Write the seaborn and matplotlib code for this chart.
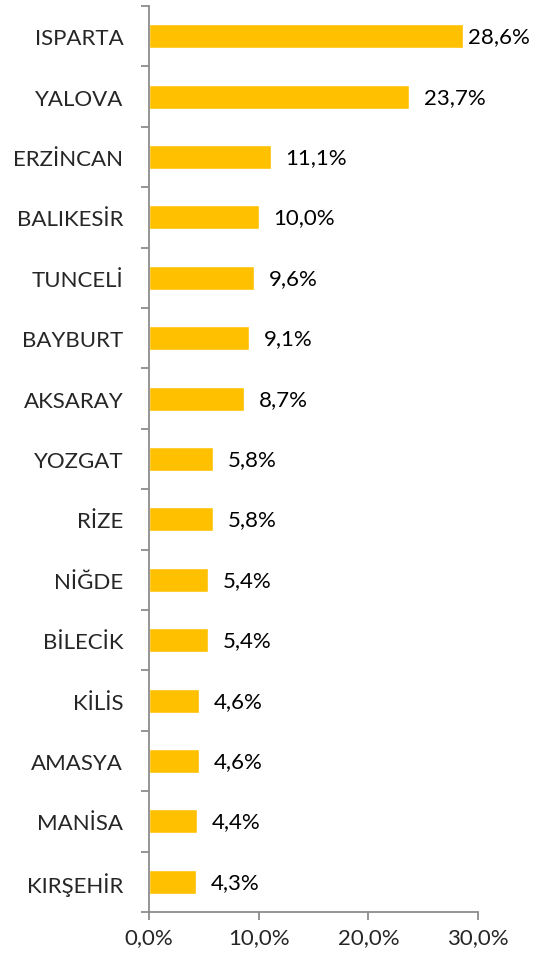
import numpy as np
import pandas as pd
import matplotlib
matplotlib.use("Agg")
import matplotlib.pyplot as plt
import seaborn as sns

provinces = ["ISPARTA", "YALOVA", "ERZİNCAN", "BALIKESİR", "TUNCELİ", "BAYBURT",
             "AKSARAY", "YOZGAT", "RİZE", "NİĞDE", "BİLECİK", "KİLİS",
             "AMASYA", "MANİSA", "KIRŞEHİR"]
shares = [28.6, 23.7, 11.1, 10.0, 9.6, 9.1, 8.7, 5.8, 5.8, 5.4, 5.4, 4.6, 4.6, 4.4, 4.3]
xticks = [0, 10, 20, 30]

df = pd.DataFrame({"il": provinces, "pay": shares})

sns.set_style("white")
plt.rcParams["font.family"] = ["Lato", "DejaVu Sans"]

fig = plt.figure(figsize=(5.39, 9.54), dpi=100)
ax = fig.add_axes([149 / 539, 1 - 913 / 954, (478 - 149) / 539, (913 - 7) / 954])

sns.barplot(data=df, x="pay", y="il", color="#FFC000", saturation=1,
            width=0.4, ax=ax, orient="h")

# value labels (the top one gets pushed left so it stays inside the figure)
for i, v in enumerate(shares):
    ax.text(min(v + 1.35, 29.1), i, f"{v:.1f}%".replace(".", ","), va="center",
            ha="left", fontsize=16, color="black")

ax.set_xlim(0, 30)
ax.set_ylim(len(provinces) - 0.5, -0.5)
ax.set_xticks(xticks)
ax.set_xticklabels([f"{t:.1f}%".replace(".", ",") for t in xticks], fontsize=16)

# category labels at centres, tick marks at boundaries
ax.set_yticks(np.arange(-0.5, len(provinces)), labels=[])
ax.set_yticks(np.arange(len(provinces)), labels=provinces, minor=True)
ax.tick_params(axis="y", which="minor", left=True, length=0, labelsize=16, pad=18.5)
ax.tick_params(axis="y", which="major", left=True, length=6, width=1.3,
               color="#8c8c8c", direction="out")
ax.tick_params(axis="x", bottom=True, length=6, width=1.3, color="#8c8c8c",
               direction="out", pad=5)

ax.set_xlabel("")
ax.set_ylabel("")
for s in ["top", "right"]:
    ax.spines[s].set_visible(False)
for s in ["left", "bottom"]:
    ax.spines[s].set_color("#8c8c8c")
    ax.spines[s].set_linewidth(1.3)

fig.savefig("out.png", dpi=100)
